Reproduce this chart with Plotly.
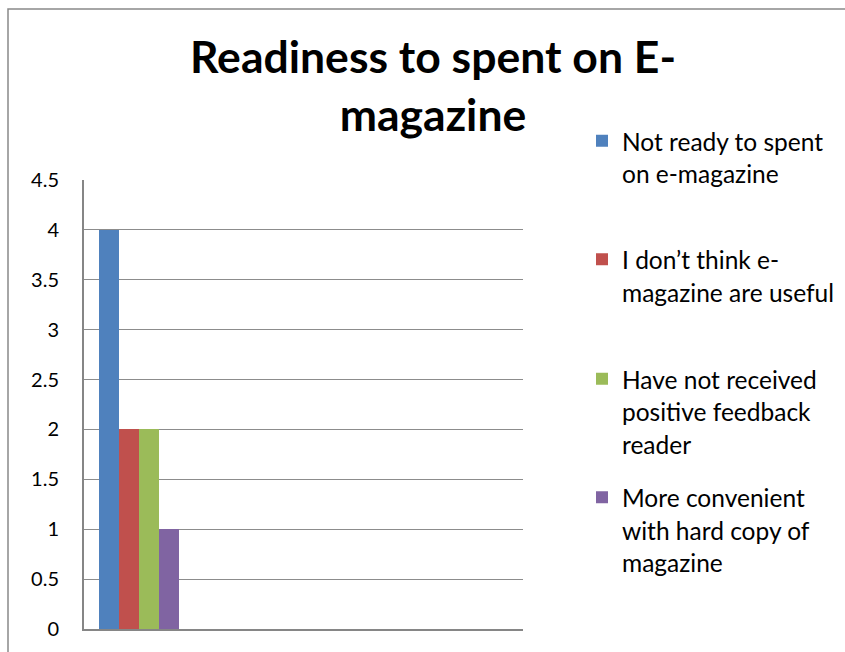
import plotly.graph_objects as go

series_names = [
    "Not ready to spent<br>on e-magazine",
    "I don’t think e-<br>magazine are useful",
    "Have not received<br>positive feedback<br>reader",
    "More convenient<br>with hard copy of<br>magazine",
]
series_values = [4, 2, 2, 1]
series_colors = ["#4F81BD", "#C0504D", "#9BBB59", "#8064A2"]
y_ticks = [0, 0.5, 1, 1.5, 2, 2.5, 3, 3.5, 4, 4.5]
y_tick_labels = ["0", "0.5", "1", "1.5", "2", "2.5", "3", "3.5", "4", "4.5"]
title_text = "Readiness to spent on E-<br>magazine"

FONT = "Lato"
LEG_SIZE = 24.5


def legend_label(name):
    lines = name.split("<br>")
    while len(lines) < 3:
        lines.append("&nbsp;")
    return "<br>".join(f'<span style="font-size:{LEG_SIZE}px">{l}</span>' for l in lines)


W, H = 845, 652
L, R, T, B = 84, 523, 180, 629
pw, ph = R - L, B - T


def px(x):
    return (x - L) / pw


def py(y):
    return (B - y) / ph


fig = go.Figure()
legend_ids = ["legend", "legend", "legend2", "legend2"]
for i, (name, val, col) in enumerate(zip(series_names, series_values, series_colors)):
    fig.add_trace(go.Bar(
        x=[0], y=[val], name=legend_label(name),
        marker=dict(color=col, line=dict(width=0)),
        legendgroup=f"g{i}", legend=legend_ids[i],
    ))

fig.add_shape(type="rect", xref="paper", yref="paper",
              x0=px(8), x1=px(860), y0=py(670), y1=py(9),
              line=dict(color="#898989", width=1.5), layer="below")

leg_common = dict(x=px(582), xanchor="left", yanchor="top",
                  font=dict(family=FONT, size=25, color="black"),
                  valign="top", traceorder="grouped", tracegroupgap=18,
                  bgcolor="rgba(0,0,0,0)", itemclick=False)

fig.update_layout(
    width=W, height=H,
    margin=dict(l=L, r=W - R, t=T, b=H - B, pad=0, autoexpand=False),
    paper_bgcolor="white", plot_bgcolor="white",
    barmode="group", bargap=0, bargroupgap=0,
    font=dict(family=FONT, color="black"),
    title=dict(text=title_text, x=433 / W, xanchor="center",
               xref="container", yref="container", y=1 - 73 / H, yanchor="top",
               font=dict(family=FONT, size=44.5, color="black", weight="bold")),
    showlegend=True,
    legend=dict(y=py(118), **leg_common),
    legend2=dict(y=py(356), **leg_common),
)

fig.update_xaxes(range=[-(139 - L) / 80, -(139 - L) / 80 + pw / 80],
                 showticklabels=False, showgrid=False, zeroline=False,
                 showline=True, linecolor="#868686", linewidth=2, ticks="")
fig.update_yaxes(range=[0, 4.5], tickvals=y_ticks, ticktext=y_tick_labels,
                 showgrid=True, gridcolor="#8c8c8c", gridwidth=1,
                 zeroline=False, showline=True, linecolor="#868686", linewidth=2,
                 ticks="", ticklabelstandoff=19,
                 tickfont=dict(family=FONT, size=20, color="black"))

fig.write_html("out.html")
